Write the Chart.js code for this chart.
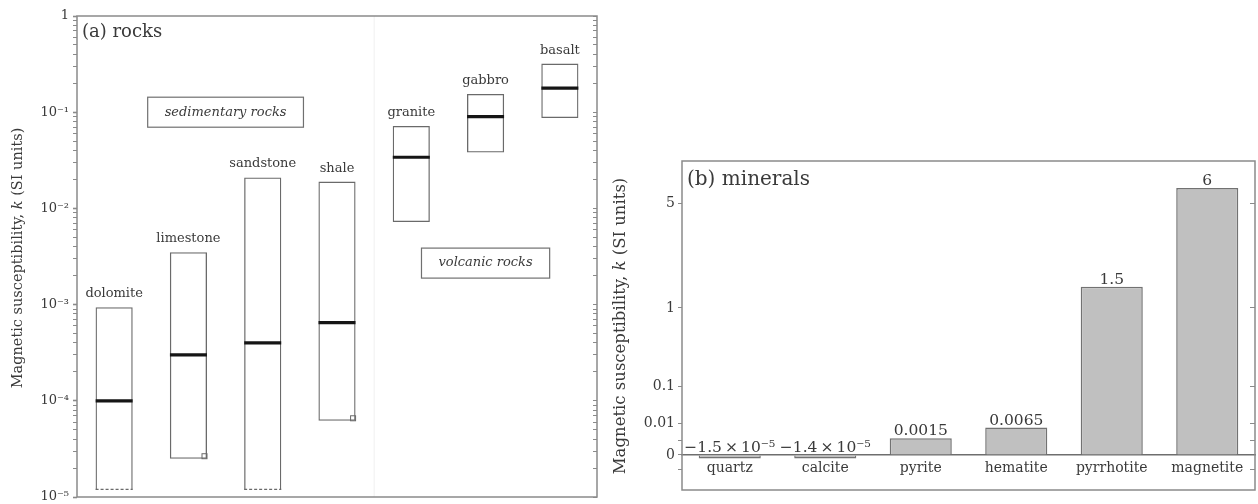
<!DOCTYPE html>
<html>
<head>
<meta charset="utf-8">
<script src="https://cdn.jsdelivr.net/npm/chart.js@4.4.1/dist/chart.umd.min.js"></script>
<style>
html,body{margin:0;padding:0;background:#ffffff;width:1258px;height:504px;overflow:hidden;}
canvas{position:absolute;top:0;}
#cA{left:0;}
#cB{left:600px;}
</style>
</head>
<body>
<canvas id="cA" width="600" height="504"></canvas>
<canvas id="cB" width="658" height="504"></canvas>
<script>
// ---------- data: panel (a) rocks ----------
const rockNames = ['dolomite', 'limestone', 'sandstone', 'shale', 'granite', 'gabbro', 'basalt'];
const rockMin = [1.2e-5, 2.5e-5, 1.2e-5, 6.2e-5, 7.2e-3, 0.038, 0.087];
const rockMax = [9.4e-4, 3.5e-3, 0.021, 0.019, 0.072, 0.155, 0.32];
const rockMedian = [1.0e-4, 3.0e-4, 4.0e-4, 6.5e-4, 0.034, 0.09, 0.178];
const rockOpenBottom = [true, false, true, false, false, false, false];
const rockCornerMark = [false, true, false, true, false, false, false];
const rockTickValues = [1, 0.1, 0.01, 1e-3, 1e-4, 1e-5];
const rockTickLabels = ['1', '10⁻¹', '10⁻²', '10⁻³', '10⁻⁴', '10⁻⁵'];
const rockGroupLabels = ['sedimentary rocks', 'volcanic rocks'];
const rockGroupCategory = [1.5, 5];
const rockGroupValue = [0.1, 2.7e-3];
const rockTitle = '(a) rocks';

// ---------- data: panel (b) minerals ----------
const minNames = ['quartz', 'calcite', 'pyrite', 'hematite', 'pyrrhotite', 'magnetite'];
const minValues = [-1.5e-5, -1.4e-5, 0.0015, 0.0065, 1.5, 6];
const minValueLabels = ['−1.5\u2009×\u200910⁻⁵', '−1.4\u2009×\u200910⁻⁵', '0.0015', '0.0065', '1.5', '6'];
const minTickValues = [-0.001, 0, 0.001, 0.01, 0.1, 1, 5];
const minTickLabels = ['', '0', '', '0.01', '0.1', '1', '5'];
const minTitle = '(b) minerals';

const yTitleParts = ['Magnetic susceptibility, ', 'k', ' (SI units)'];

// ---------- styling ----------
const SERIF = "'DejaVu Serif', 'Liberation Serif', serif";
Chart.defaults.font.family = SERIF;
Chart.defaults.color = '#3a3a3a';
const FRAME = '#8a8a8a';
const TEXT = '#3a3a3a';

function decadeTicks(lo, hi) {
  const out = [];
  const e0 = Math.round(Math.log10(lo)), e1 = Math.round(Math.log10(hi));
  for (let e = e0; e < e1; e++) {
    for (let m = 1; m <= 9; m++) out.push({ value: m * Math.pow(10, e) });
  }
  out.push({ value: hi });
  return out;
}
function rockLabel(v) {
  const i = rockTickValues.findIndex(t => Math.abs(Math.log10(t) - Math.log10(v)) < 1e-6);
  return i >= 0 ? rockTickLabels[i] : '';
}

function drawYTitle(ctx, cx, cy, size) {
  ctx.save();
  ctx.translate(cx, cy);
  ctx.rotate(-Math.PI / 2);
  ctx.fillStyle = TEXT;
  ctx.textBaseline = 'middle';
  ctx.textAlign = 'left';
  const fonts = yTitleParts.map((p, i) => (i === 1 ? 'italic ' : '') + size + 'px ' + SERIF);
  let total = 0;
  const widths = yTitleParts.map((p, i) => { ctx.font = fonts[i]; const w = ctx.measureText(p).width; total += w; return w; });
  let x = -total / 2;
  yTitleParts.forEach((p, i) => { ctx.font = fonts[i]; ctx.fillText(p, x, 0); x += widths[i]; });
  ctx.restore();
}

// ---------- panel (a) ----------
const rocksDecor = {
  id: 'rocksDecor',
  afterDatasetsDraw(chart) {
    const ctx = chart.ctx;
    const area = chart.chartArea;
    const xs = chart.scales.x, ys = chart.scales.y;
    const meta = chart.getDatasetMeta(0);
    ctx.save();
    // faint separator between sedimentary and volcanic groups
    const sep = (xs.getPixelForValue(3) + xs.getPixelForValue(4)) / 2;
    ctx.strokeStyle = '#f0f0f0';
    ctx.lineWidth = 1;
    ctx.beginPath();
    ctx.moveTo(sep, area.top);
    ctx.lineTo(sep, area.bottom);
    ctx.stroke();
    meta.data.forEach((el, i) => {
      const p = el.getProps(['x', 'y', 'base', 'width'], true);
      ctx.fillStyle = TEXT;
      ctx.font = '13px ' + SERIF;
      ctx.textAlign = 'center';
      ctx.textBaseline = 'alphabetic';
      ctx.fillText(rockNames[i], p.x, Math.min(p.y, p.base) - 10);
      const bottom = Math.max(p.y, p.base);
      if (rockOpenBottom[i]) {
        ctx.strokeStyle = '#6a6a6a';
        ctx.lineWidth = 1.2;
        ctx.setLineDash([3, 2]);
        ctx.beginPath();
        ctx.moveTo(p.x - p.width / 2, bottom);
        ctx.lineTo(p.x + p.width / 2, bottom);
        ctx.stroke();
        ctx.setLineDash([]);
      }
      if (rockCornerMark[i]) {
        ctx.strokeStyle = '#6a6a6a';
        ctx.lineWidth = 1;
        ctx.strokeRect(p.x + p.width / 2 - 5, bottom - 5, 5, 5);
      }
    });
    // group boxes
    rockGroupLabels.forEach((t, i) => {
      const cx = xs.getPixelForValue(rockGroupCategory[i]);
      const cy = ys.getPixelForValue(rockGroupValue[i]);
      ctx.font = 'italic 13px ' + SERIF;
      const w = ctx.measureText(t).width + 34;
      const h = 30;
      ctx.strokeStyle = '#707070';
      ctx.lineWidth = 1.2;
      ctx.strokeRect(cx - w / 2, cy - h / 2, w, h);
      ctx.fillStyle = TEXT;
      ctx.textAlign = 'center';
      ctx.textBaseline = 'middle';
      ctx.fillText(t, cx, cy);
    });
    // frame
    ctx.strokeStyle = FRAME;
    ctx.lineWidth = 1.5;
    ctx.strokeRect(area.left, area.top, area.right - area.left, area.bottom - area.top);
    // panel title
    ctx.fillStyle = TEXT;
    ctx.font = '18px ' + SERIF;
    ctx.textAlign = 'left';
    ctx.textBaseline = 'alphabetic';
    ctx.fillText(rockTitle, area.left + 5, area.top + 21);
    ctx.restore();
    drawYTitle(ctx, 18, 258, 14.5);
  }
};

new Chart(document.getElementById('cA'), {
  type: 'bar',
  data: {
    labels: rockNames,
    datasets: [
      {
        type: 'bar',
        data: rockNames.map((_, i) => [rockMin[i], rockMax[i]]),
        backgroundColor: 'rgba(255,255,255,0)',
        borderColor: '#6a6a6a',
        borderWidth: 1.3,
        borderSkipped: ctx => (rockOpenBottom[ctx.dataIndex] ? 'bottom' : false),
        barPercentage: 0.5,
        categoryPercentage: 1,
        order: 2
      },
      {
        type: 'line',
        data: rockMedian,
        showLine: false,
        pointStyle: 'line',
        pointRadius: 18.5,
        pointHoverRadius: 18.5,
        pointBorderWidth: 3.2,
        pointBorderColor: '#151515',
        borderColor: '#151515',
        order: 1
      }
    ]
  },
  options: {
    responsive: false,
    animation: false,
    events: [],
    layout: { autoPadding: false, padding: { top: 16, right: 3, bottom: 0, left: 0 } },
    plugins: { legend: { display: false }, tooltip: { enabled: false } },
    scales: {
      x: {
        type: 'category',
        offset: true,
        grid: { display: false },
        border: { display: false },
        ticks: { display: false },
        afterFit: s => { s.height = 7; s.paddingLeft = 0; s.paddingRight = 0; }
      },
      y: {
        type: 'logarithmic',
        position: 'left',
        min: 1e-5,
        max: 1,
        afterBuildTicks: s => { s.ticks = decadeTicks(1e-5, 1); },
        ticks: { autoSkip: false, callback: v => rockLabel(v), font: { size: 13 }, padding: 4, color: TEXT },
        grid: {
          drawOnChartArea: false, drawTicks: true, tickLength: 4, color: FRAME,
          tickWidth: c => (c.tick && rockLabel(c.tick.value) ? 1.6 : 1)
        },
        border: { display: false },
        afterFit: s => { s.width = 77; s.paddingTop = 0; s.paddingBottom = 0; }
      },
      yR: {
        type: 'logarithmic',
        position: 'right',
        min: 1e-5,
        max: 1,
        afterBuildTicks: s => { s.ticks = decadeTicks(1e-5, 1); },
        ticks: { display: false, autoSkip: false },
        grid: { drawOnChartArea: false, drawTicks: true, tickLength: -4, color: FRAME },
        border: { display: false },
        afterFit: s => { s.width = 0; s.paddingTop = 0; s.paddingBottom = 0; }
      }
    }
  },
  plugins: [rocksDecor]
});

// ---------- panel (b) ----------
const minDecor = {
  id: 'minDecor',
  afterDatasetsDraw(chart) {
    const ctx = chart.ctx;
    const area = chart.chartArea;
    const meta = chart.getDatasetMeta(0);
    ctx.save();
    meta.data.forEach((el, i) => {
      const p = el.getProps(['x', 'y', 'base'], true);
      ctx.fillStyle = TEXT;
      ctx.font = '15.5px ' + SERIF;
      ctx.textAlign = 'center';
      ctx.textBaseline = 'alphabetic';
      ctx.fillText(minValueLabels[i], p.x, Math.min(p.y, p.base) - 3);
    });
    ctx.strokeStyle = FRAME;
    ctx.lineWidth = 1.5;
    ctx.strokeRect(area.left, area.top, area.right - area.left, area.bottom - area.top);
    ctx.fillStyle = TEXT;
    ctx.font = '20px ' + SERIF;
    ctx.textAlign = 'left';
    ctx.textBaseline = 'alphabetic';
    ctx.fillText(minTitle, area.left + 5, area.top + 24);
    ctx.restore();
    drawYTitle(ctx, 21, 326, 16.5);
  }
};

new Chart(document.getElementById('cB'), {
  type: 'bar',
  data: {
    labels: minNames,
    datasets: [{
      data: minValues.map(v => Math.cbrt(v)),
      backgroundColor: '#c0c0c0',
      borderColor: '#727272',
      borderWidth: 1.5,
      barPercentage: 0.65,
      categoryPercentage: 1
    }]
  },
  options: {
    responsive: false,
    animation: false,
    events: [],
    layout: { autoPadding: false, padding: { top: 161, right: 3, bottom: 14, left: 0 } },
    plugins: { legend: { display: false }, tooltip: { enabled: false } },
    scales: {
      x: {
        type: 'category',
        position: { y: 0 },
        offset: true,
        grid: { display: true, drawOnChartArea: false, drawTicks: false },
        border: { display: true, color: '#6e6e6e', width: 1.5 },
        ticks: { font: { size: 14 }, padding: 5, color: TEXT }
      },
      y: {
        type: 'linear',
        position: 'left',
        min: Math.cbrt(-0.0135),
        max: Math.cbrt(8),
        afterBuildTicks: s => { s.ticks = minTickValues.map(v => ({ value: Math.cbrt(v) })); },
        ticks: { autoSkip: false, callback: (v, i) => minTickLabels[i], font: { size: 14 }, padding: 3, color: TEXT },
        grid: { drawOnChartArea: false, drawTicks: true, tickLength: 4, color: FRAME },
        border: { display: false },
        afterFit: s => { s.width = 82; }
      },
      yR: {
        type: 'linear',
        position: 'right',
        min: Math.cbrt(-0.0135),
        max: Math.cbrt(8),
        afterBuildTicks: s => { s.ticks = minTickValues.map(v => ({ value: Math.cbrt(v) })); },
        ticks: { display: false, autoSkip: false },
        grid: { drawOnChartArea: false, drawTicks: true, tickLength: -5, color: FRAME },
        border: { display: false },
        afterFit: s => { s.width = 0; }
      }
    }
  },
  plugins: [minDecor]
});
</script>
</body>
</html>
